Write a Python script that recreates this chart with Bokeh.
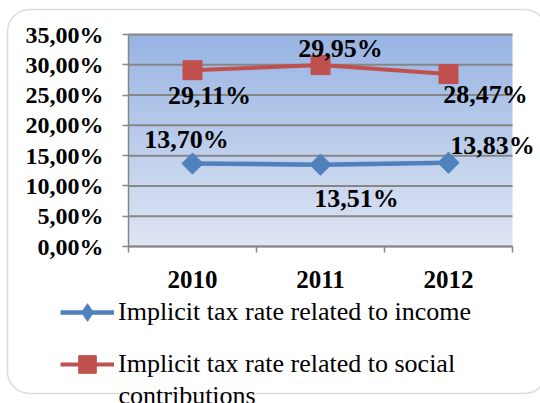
import math
import numpy as np
from bokeh.plotting import figure
from bokeh.models import (FixedTicker, Legend, LegendItem, Label, BoxAnnotation, Range1d)
from bokeh.embed import file_html
from bokeh.resources import INLINE

# ---- data ----
years = ["2010", "2011", "2012"]
income = [13.70, 13.51, 13.83]
social = [29.11, 29.95, 28.47]
y_ticks = [0, 5, 10, 15, 20, 25, 30, 35]
series_names = ["Implicit tax rate related to income",
                "Implicit tax rate related to social"]
series_name_cont = "contributions"

# label offsets (screen px) - styling only
income_off = [(-6, 24), (36, -34), (44, 17)]
social_off = [(17, -25), (20, 17), (37, -20)]

BLUE = "#4f81bd"
RED = "#c0504d"
GRID = "#868686"
SERIF = "Liberation Serif"

W, H = 540, 403
# plot area in canvas pixels
PL, PR, PT, PB = 128, 512, 34, 246
# legend layout (canvas pixels)
LEG_X, LEG_TOP, LEG_GLYPH_H, LEG_SPACING, LEG_GLYPH_W, LEG_STANDOFF = 60, 290, 44, 8, 54, 4
CONT_Y = 395


def pct(v):
    return f"{v:.2f}".replace(".", ",") + "%"


n_cat = len(years)
y_max = max(y_ticks)
xs = [i + 0.5 for i in range(n_cat)]

# ranges so that the data box [0,n_cat]x[0,y_max] lands on the plot area
sx = (PR - PL) / n_cat
sy = (PB - PT) / y_max
x_range = Range1d(-PL / sx, n_cat + (W - PR) / sx)
y_range = Range1d(-(H - PB) / sy, y_max + PT / sy)

p = figure(width=W, height=H, x_range=x_range, y_range=y_range,
           output_backend="svg", toolbar_location=None,
           min_border=0, min_border_left=0, min_border_right=0,
           min_border_top=0, min_border_bottom=0)
p.outline_line_color = None
p.border_fill_color = "white"
p.background_fill_color = "white"
p.grid.visible = False

# gradient background of plot area
nrow = 256
t = np.linspace(0, 1, nrow)
bottom_c = np.array([223, 230, 244])
top_c = np.array([152, 180, 227])
img = np.empty((nrow, 1), dtype=np.uint32)
view = img.view(dtype=np.uint8).reshape((nrow, 1, 4))
for k in range(3):
    view[:, 0, k] = (bottom_c[k] + (top_c[k] - bottom_c[k]) * t).astype(np.uint8)
view[:, 0, 3] = 255
p.image_rgba(image=[img], x=0, y=0, dw=n_cat, dh=y_max, level="image")

# horizontal gridlines across the plot area
p.segment(x0=[0] * len(y_ticks), y0=y_ticks, x1=[n_cat] * len(y_ticks), y1=y_ticks,
          line_color=GRID, line_width=2, level="underlay")

# y axis
ya = p.yaxis[0]
ya.fixed_location = 0
ya.bounds = (0, y_max)
ya.ticker = FixedTicker(ticks=y_ticks)
ya.major_label_overrides = {t_: pct(t_) for t_ in y_ticks}
ya.major_label_text_font = SERIF
ya.major_label_text_font_style = "bold"
ya.major_label_text_font_size = "24px"
ya.major_label_text_color = "black"
ya.major_label_standoff = 19
ya.axis_line_color = GRID
ya.axis_line_width = 1.5
ya.major_tick_line_color = GRID
ya.major_tick_line_width = 1.5
ya.major_tick_out = 6
ya.major_tick_in = 0
ya.minor_tick_line_color = None

# x axis
xa = p.xaxis[0]
xa.fixed_location = 0
xa.bounds = (0, n_cat)
xa.ticker = FixedTicker(ticks=xs, minor_ticks=list(range(n_cat + 1)))
xa.major_label_overrides = {x: y for x, y in zip(xs, years)}
xa.major_label_text_font = SERIF
xa.major_label_text_font_style = "bold"
xa.major_label_text_font_size = "25px"
xa.major_label_text_color = "black"
xa.major_label_standoff = 18
xa.axis_line_color = GRID
xa.axis_line_width = 1.5
xa.major_tick_line_color = None
xa.major_tick_out = 0
xa.major_tick_in = 0
xa.minor_tick_line_color = GRID
xa.minor_tick_line_width = 1.5
xa.minor_tick_out = 6
xa.minor_tick_in = 0

# series
l_soc = p.line(xs, social, line_color=RED, line_width=4)
m_soc = p.scatter(xs, social, marker="square", size=19, color=RED)
l_inc = p.line(xs, income, line_color=BLUE, line_width=4.5)
m_inc = p.scatter(xs, income, marker="square", angle=math.pi / 4, size=15, color=BLUE)
# diamond used only for the legend key (legend keys ignore marker angle)
m_inc_key = p.scatter(xs, income, marker="diamond", size=18, color=BLUE, visible=False)

# data labels
for vals, offs in ((income, income_off), (social, social_off)):
    for x, v, (dx, dy) in zip(xs, vals, offs):
        p.add_layout(Label(x=x, y=v, x_offset=dx, y_offset=dy, text=pct(v),
                           text_font=SERIF, text_font_style="bold", text_font_size="26px",
                           text_color="black", text_align="center", text_baseline="middle"))

# legend
leg_h = 2 * LEG_GLYPH_H + LEG_SPACING
legend = Legend(items=[LegendItem(label=series_names[0], renderers=[l_inc, m_inc_key]),
                       LegendItem(label=series_names[1], renderers=[l_soc, m_soc])],
                location=(LEG_X, H - LEG_TOP - leg_h), orientation="vertical",
                label_text_font=SERIF, label_text_font_size="26px", label_text_color="black",
                glyph_width=LEG_GLYPH_W, glyph_height=LEG_GLYPH_H,
                label_standoff=LEG_STANDOFF, label_height=LEG_GLYPH_H,
                spacing=LEG_SPACING, padding=0, margin=0, border_line_color=None,
                background_fill_alpha=0, click_policy="none")
p.add_layout(legend, "center")
# wrapped second line of the second legend entry
p.add_layout(Label(x=LEG_X + LEG_GLYPH_W + LEG_STANDOFF, y=H - CONT_Y,
                   x_units="screen", y_units="screen", text=series_name_cont,
                   text_font=SERIF, text_font_size="26px", text_color="black",
                   text_align="left", text_baseline="middle"))

# rounded chart border
p.add_layout(BoxAnnotation(left=7, right=546, top=9, bottom=393,
                           left_units="canvas", right_units="canvas",
                           top_units="canvas", bottom_units="canvas",
                           fill_alpha=0, line_color="#8c8c8c", line_width=1.5,
                           border_radius=22, level="underlay"))

open("out.html", "w").write(file_html(p, INLINE))
